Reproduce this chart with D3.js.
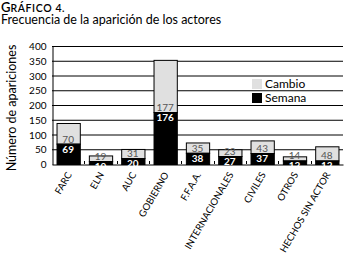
<!DOCTYPE html>
<html>
<head>
<meta charset="utf-8">
<script src="https://cdn.jsdelivr.net/npm/d3@7"></script>
<style>
  body { margin: 0; background: #fff; }
  text { font-family: Lato, "Open Sans", sans-serif; }
</style>
</head>
<body>
<div id="chart"></div>
<script>
// data
const actores = ["FARC", "ELN", "AUC", "GOBIERNO", "F.F.A.A.", "INTERNACIONALES", "CIVILES", "OTROS", "HECHOS SIN ACTOR"];
const semana = [69, 10, 20, 176, 38, 27, 37, 12, 12];
const cambio = [70, 19, 31, 177, 35, 23, 43, 14, 48];
const yTicks = [0, 50, 100, 150, 200, 250, 300, 350, 400];

const width = 346, height = 269;
const margin = {top: 46, right: 3, bottom: 105, left: 52};

const svg = d3.select("#chart").append("svg")
    .attr("width", width)
    .attr("height", height);

// titles (small caps done by hand)
const title = svg.append("text")
    .attr("x", 1).attr("y", 11.5)
    .style("font-weight", "600");
title.append("tspan").style("font-size", "13px").text("G");
title.append("tspan").style("font-size", "10.5px").style("letter-spacing", "0.6px").text("RÁFICO 4.");

svg.append("text")
    .attr("x", 1).attr("y", 24)
    .style("font-size", "12.5px")
    .text("Frecuencia de la aparición de los actores");

const xScale = d3.scaleBand()
    .domain(actores)
    .range([margin.left, width - margin.right])
    .paddingInner(0.28)
    .paddingOuter(0.14);

const yScale = d3.scaleLinear()
    .domain([0, 400])
    .range([height - margin.bottom, margin.top]);

// gridlines
svg.append("g")
    .selectAll("line")
    .data(yTicks.slice(1))
    .join("line")
    .attr("x1", margin.left).attr("x2", width - margin.right)
    .attr("y1", d => yScale(d) + 0.5).attr("y2", d => yScale(d) + 0.5)
    .attr("stroke", "#000").attr("stroke-width", 1);

// y axis
const yAxis = svg.append("g")
    .attr("transform", `translate(${margin.left + 0.5},0.5)`)
    .call(d3.axisLeft(yScale).tickValues(yTicks).tickSize(0).tickPadding(6));
yAxis.select(".domain").attr("stroke", "#000");
yAxis.selectAll("text").style("font-size", "10px").attr("fill", "#000");

svg.append("text")
    .attr("transform", `translate(16,108) rotate(-90)`)
    .attr("text-anchor", "middle")
    .style("font-size", "12.5px")
    .text("Número de apariciones");

// x axis
const xAxis = svg.append("g")
    .attr("transform", `translate(0,${height - margin.bottom + 0.5})`)
    .call(d3.axisBottom(xScale).tickSize(0).tickPadding(0));
xAxis.select(".domain").attr("stroke", "#000");
xAxis.selectAll("text")
    .style("font-size", "9.6px")
    .attr("fill", "#000")
    .attr("text-anchor", "end")
    .attr("dy", "0")
    .attr("transform", "translate(4,10) rotate(-60)");

// small ticks between categories
svg.append("g")
    .selectAll("line")
    .data(actores.slice(1))
    .join("line")
    .attr("x1", d => Math.round(xScale(d) - xScale.step() * xScale.paddingInner() / 2) + 0.5)
    .attr("x2", d => Math.round(xScale(d) - xScale.step() * xScale.paddingInner() / 2) + 0.5)
    .attr("y1", height - margin.bottom)
    .attr("y2", height - margin.bottom - 3)
    .attr("stroke", "#000");

// stacked bars
const bars = svg.append("g")
    .selectAll("g")
    .data(actores.map((a, i) => ({actor: a, semana: semana[i], cambio: cambio[i]})))
    .join("g");

bars.append("rect")
    .attr("x", d => xScale(d.actor) + 0.5)
    .attr("y", d => yScale(d.semana + d.cambio) + 0.5)
    .attr("width", xScale.bandwidth())
    .attr("height", d => yScale(d.semana) - yScale(d.semana + d.cambio))
    .attr("fill", "#e0e0e0")
    .attr("stroke", "#000");

bars.append("rect")
    .attr("x", d => xScale(d.actor) + 0.5)
    .attr("y", d => yScale(d.semana) + 0.5)
    .attr("width", xScale.bandwidth())
    .attr("height", d => yScale(0) - yScale(d.semana))
    .attr("fill", "#000")
    .attr("stroke", "#000");

bars.append("text")
    .attr("x", d => xScale(d.actor) + xScale.bandwidth() / 2)
    .attr("y", d => yScale(d.semana) - 1)
    .attr("text-anchor", "middle")
    .style("font-size", "10px")
    .attr("fill", "#555")
    .text(d => d.cambio);

bars.append("text")
    .attr("x", d => xScale(d.actor) + xScale.bandwidth() / 2)
    .attr("y", d => yScale(d.semana) + 9)
    .attr("text-anchor", "middle")
    .style("font-size", "10px")
    .style("font-weight", "bold")
    .attr("fill", "#fff")
    .text(d => d.semana);

// legend
const legend = svg.append("g").attr("transform", "translate(252,79)");
[["Cambio", "#e0e0e0"], ["Semana", "#000"]].forEach(([name, color], i) => {
    legend.append("rect")
        .attr("x", 0).attr("y", i * 14)
        .attr("width", 10).attr("height", 10)
        .attr("fill", color);
    legend.append("text")
        .attr("x", 13).attr("y", i * 14 + 9)
        .style("font-size", "12px")
        .text(name);
});
</script>
</body>
</html>
